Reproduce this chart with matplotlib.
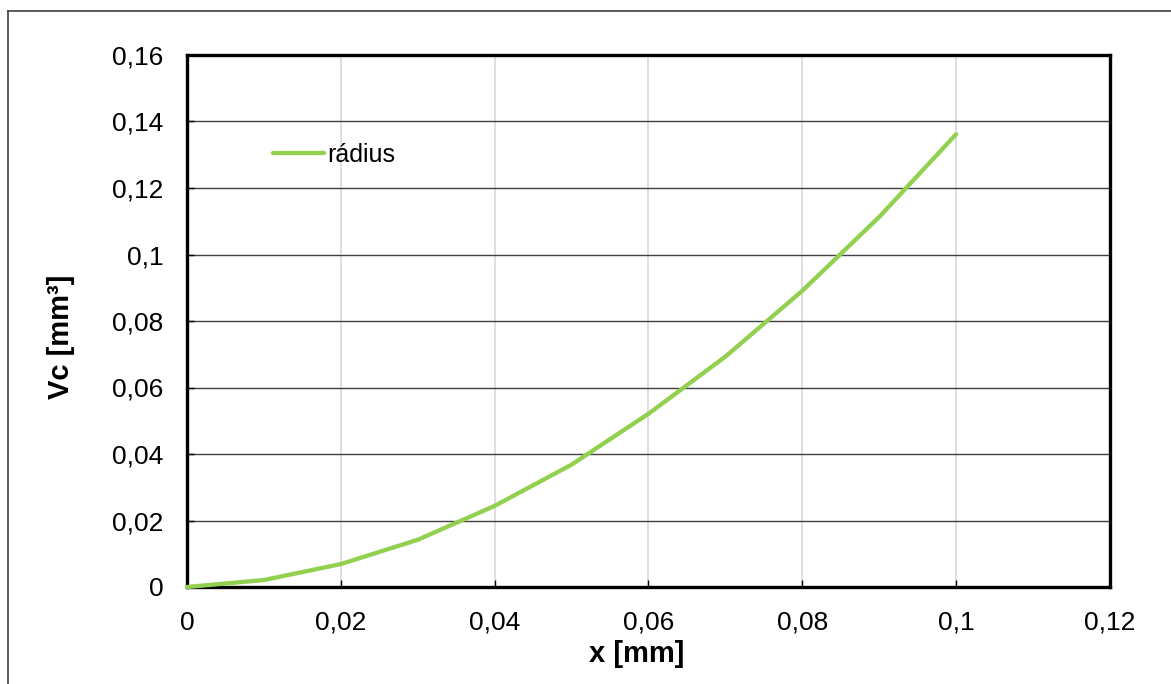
import matplotlib
matplotlib.use('Agg')

import matplotlib.pyplot as plt
from matplotlib.lines import Line2D
from matplotlib.ticker import FuncFormatter, MultipleLocator

# ==================== DATA ====================
x_mm = [0.0, 0.01, 0.02, 0.03, 0.04, 0.05, 0.06, 0.07, 0.08, 0.09, 0.1]
vc_mm3 = [0.0, 0.0021, 0.0069, 0.0142, 0.0244, 0.0368, 0.0521, 0.0693, 0.0891, 0.1113, 0.1362]
series_name = 'rádius'

plt.rcParams['font.family'] = ['Liberation Sans', 'DejaVu Sans']

fig = plt.figure(figsize=(11.71, 6.84), dpi=100)
fig.patch.set_facecolor('white')

# outer chart-area border (top and left visible)
fig.add_artist(Line2D([8 / 1171, 1.0], [1 - 11 / 684, 1 - 11 / 684],
                      transform=fig.transFigure, color='#404040', linewidth=1.2))
fig.add_artist(Line2D([8 / 1171, 8 / 1171], [0.0, 1 - 11 / 684],
                      transform=fig.transFigure, color='#404040', linewidth=1.2))

ax = fig.add_axes([187 / 1171, 97 / 684, 923 / 1171, 532 / 684])

ax.plot(x_mm, vc_mm3, color='#92D050', linewidth=3.1, label=series_name,
        solid_capstyle='round', zorder=3, clip_on=False)

ax.set_xlim(0, 0.12)
ax.set_ylim(0, 0.16)
ax.xaxis.set_major_locator(MultipleLocator(0.02))
ax.yaxis.set_major_locator(MultipleLocator(0.02))

comma_fmt = FuncFormatter(lambda v, pos: f"{v:g}".replace('.', ','))
ax.xaxis.set_major_formatter(comma_fmt)
ax.yaxis.set_major_formatter(comma_fmt)

# gridlines: dark horizontal, light vertical
ax.yaxis.grid(True, color='#404040', linewidth=1.0)
ax.xaxis.grid(True, color='#d9d9d9', linewidth=1.2)
ax.set_axisbelow(True)

for side in ax.spines.values():
    side.set_linewidth(2.4)
    side.set_color('black')

ax.tick_params(axis='both', direction='in', length=5, width=1.0,
               labelsize=19, colors='black')
ax.tick_params(axis='x', pad=17)
ax.tick_params(axis='y', pad=17)

ax.set_xlabel('x [mm]', fontsize=21, fontweight='bold')
ax.set_ylabel('Vc [mm³]', fontsize=21, fontweight='bold')
ax.xaxis.set_label_coords(0.487, -0.1)
ax.yaxis.set_label_coords(-0.121, 0.47)

ax.legend(loc='center left', bbox_to_anchor=(0.093, 0.812), frameon=False,
          fontsize=18, handlelength=2.05, handletextpad=0.12,
          borderpad=0, borderaxespad=0)

plt.savefig('out.png', dpi=100, facecolor='white')
plt.close()
